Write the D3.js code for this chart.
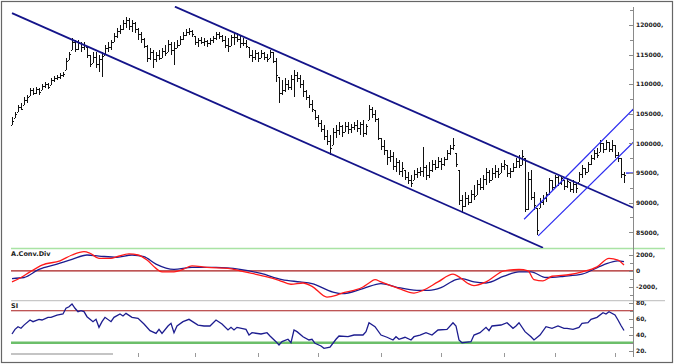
<!DOCTYPE html>
<html>
<head>
<meta charset="utf-8">
<script src="https://cdn.jsdelivr.net/npm/d3@7"></script>
<style>
  body { margin: 0; background: #fff; }
  svg { display: block; font-family: "DejaVu Sans", Verdana, sans-serif; }
  .lbl { font-size: 6px; font-weight: bold; fill: #222; }
</style>
</head>
<body>
<div id="chart"></div>
<script>
// price bars, values in thousands
const hi = [104.5,105.3,106.5,106.8,107.8,108.2,109.4,109.4,109.5,109.3,
  110.0,110.4,110.2,111.0,111.4,111.6,111.9,112.1,114.4,115.4,
  117.8,117.5,117.5,117.1,117.1,116.3,114.9,115.4,115.4,114.9,
  115.4,116.6,117.1,117.5,118.6,119.5,120.0,120.8,121.4,121.2,
  120.8,120.5,119.5,118.8,117.8,116.6,116.1,115.8,115.4,115.8,
  116.1,116.6,117.5,117.1,117.1,117.5,118.1,118.8,119.3,119.5,
  119.2,118.1,117.8,118.0,117.8,117.5,117.8,118.1,118.8,118.8,
  118.3,118.1,117.8,118.3,118.6,118.6,118.3,117.8,117.5,116.3,
  115.8,115.8,115.4,115.8,115.4,115.1,115.8,115.4,114.4,111.2,
  110.7,111.0,110.7,111.6,112.4,112.1,111.6,110.7,109.0,108.2,
  107.3,105.6,104.8,104.0,103.1,102.3,101.4,102.6,103.1,103.6,
  103.1,103.6,103.6,103.3,103.6,104.0,103.6,104.0,103.3,106.5,
  106.1,105.6,104.3,100.9,100.6,98.9,98.9,98.5,97.5,97.2,
  96.9,95.5,95.2,94.7,95.5,95.8,96.0,99.4,96.4,96.9,
  97.2,97.2,97.7,97.5,97.7,98.9,99.7,100.9,98.4,95.5,
  91.3,91.8,91.3,92.1,93.0,93.8,94.2,94.7,95.8,95.5,
  95.8,96.4,95.8,96.7,97.2,96.4,95.8,96.7,97.5,98.0,
  98.9,97.5,95.2,95.5,91.8,89.1,90.8,91.3,91.8,94.2,
  93.8,94.7,94.5,94.5,93.8,94.2,93.5,93.8,93.3,95.2,
  96.4,95.8,96.9,98.0,98.9,99.2,100.6,100.1,100.6,100.2,
  100.6,99.7,98.5,97.5,95.2];
const lo = [103.2,104.3,105.3,105.6,106.5,106.8,108.0,108.2,108.3,108.2,
  109.0,109.4,109.2,109.9,110.4,110.7,110.9,111.2,112.4,114.1,
  115.8,115.4,115.8,115.4,115.8,114.4,112.9,113.6,112.7,112.1,
  111.2,114.9,115.4,115.8,117.1,117.8,118.5,119.2,119.5,119.2,
  118.8,118.6,117.5,117.0,116.1,113.8,114.1,112.7,113.8,114.1,
  114.4,114.8,115.4,114.9,113.2,116.1,116.6,117.5,118.1,118.3,
  118.0,116.6,116.3,116.8,116.5,116.3,116.6,117.0,117.5,117.6,
  117.1,116.1,115.4,116.5,116.6,117.1,116.1,116.5,116.1,114.4,
  113.8,114.1,113.8,114.4,114.1,113.8,114.4,113.6,110.4,106.8,
  108.2,108.7,109.0,109.0,107.8,110.4,109.4,107.8,107.3,106.0,
  105.3,104.0,102.8,101.9,100.6,99.7,98.0,99.7,100.9,101.4,
  101.1,101.9,101.6,101.8,102.3,101.9,101.4,101.1,101.4,104.0,
  104.3,103.6,100.6,98.9,98.0,96.4,96.8,95.5,95.2,94.7,
  94.3,93.8,93.1,92.6,93.8,94.2,94.5,94.3,93.8,94.2,
  95.2,95.5,95.8,95.5,96.2,97.2,98.0,98.9,96.0,89.6,
  88.2,89.3,89.6,89.9,90.4,91.3,92.1,92.1,93.0,93.3,
  93.8,94.2,94.2,95.0,95.5,94.3,94.2,95.2,95.8,95.8,
  96.4,88.4,88.7,90.4,88.7,84.5,89.1,89.6,90.1,91.3,
  92.1,92.5,92.8,93.0,92.1,92.5,91.8,91.6,91.6,93.5,
  94.2,94.7,95.2,96.4,97.2,97.5,98.5,98.4,98.9,98.5,
  98.5,97.5,96.9,94.2,93.3];
const cl = [103.8,105.0,106.2,105.9,107.4,107.9,109.0,108.6,109.2,108.7,
  109.7,110.1,109.5,110.7,111.0,111.2,111.5,111.7,114.0,115.1,
  117.2,116.0,117.0,116.3,116.6,114.9,113.4,114.6,113.4,114.2,
  114.7,116.1,116.3,117.2,118.2,119.0,119.4,120.3,120.8,119.8,
  120.4,119.3,118.4,117.6,116.5,114.5,115.5,114.2,114.9,114.5,
  115.6,115.3,116.8,115.7,116.2,116.6,117.7,118.3,118.9,119.0,
  118.4,117.1,117.4,117.2,117.3,116.9,117.4,117.8,118.5,118.1,
  117.5,116.7,116.4,117.9,118.0,117.6,117.0,116.9,116.4,115.0,
  114.6,115.2,114.4,115.3,114.6,114.2,115.4,114.0,111.5,108.5,
  109.0,110.0,109.5,110.8,111.5,111.0,110.0,108.8,107.9,106.6,
  105.8,104.4,103.4,102.5,101.2,100.4,99.2,101.9,102.2,103.0,
  102.0,103.0,102.4,102.8,103.2,102.6,103.3,101.8,102.9,105.8,
  104.9,104.2,101.0,99.5,98.9,97.7,97.9,96.2,96.8,95.3,
  95.8,94.4,93.8,93.3,94.9,95.2,95.3,96.0,94.6,95.6,
  96.5,96.0,97.1,96.6,97.3,98.4,99.2,99.8,96.5,90.4,
  89.5,90.8,90.1,91.4,91.2,93.1,92.7,94.0,95.2,93.8,
  95.0,95.4,94.8,96.2,96.6,95.0,95.4,96.1,97.0,96.4,
  97.9,89.0,94.0,91.0,89.6,85.4,90.2,90.8,91.5,93.8,
  92.6,94.3,93.4,94.1,92.8,93.6,92.3,93.2,92.4,94.8,
  95.9,95.2,96.5,97.6,98.4,98.1,100.0,99.0,100.2,99.1,
  99.8,98.0,97.5,94.8,94.7];
const lastPrice = 95.0;

// trend channels: [bar index, price]
const downUpper = [[54.3, 123.1], [207.3, 89.1]];
const downLower = [[0, 122.0], [177, 82.4]];
const upUpper = [[170.7, 87.2], [207.3, 105.9]];
const upLower = [[175.4, 84.4], [207.3, 100.3]];

// MACD (red) and signal (navy)
const macdIdx = [0,3,6,10,16,20,24,26,29,33,35,39,42,45,48,50,54,57,60,65,72,76,80,85,89,93,97,100,
  105,108,110,114,117,119,121,123,126,129,134,137,142,147,149,152,154,158,164,169,172,174,177,180,186,190,195,199,202,204];
const macdVal = [-1400,-840,-130,730,1270,2000,2420,2220,1580,1580,1780,2130,2000,1360,310,-130,-130,180,640,430,310,0,-330,-760,-1190,-1690,-1530,-1950,
  -3310,-3100,-2800,-2460,-2040,-1530,-1100,-1400,-1820,-2240,-2800,-2460,-1400,-420,-760,-1600,-1860,-1400,0,180,0,-1100,-1270,-680,-460,-130,510,1580,1360,730];
const sigIdx = [0,4,9,15,20,25,29,35,40,44,48,54,60,68,76,83,90,96,100,107,110,117,123,128,135,139,143,148,150,154,158,164,169,173,178,184,190,197,202,204];
const sigVal = [-970,-840,180,850,1450,2000,1870,1710,2000,1780,850,180,430,430,180,-330,-1100,-1400,-1600,-2680,-2880,-2240,-1600,-2040,-2460,-2460,-2120,-1100,-970,-1400,-1530,-680,-130,-130,-840,-680,-420,730,1270,1150];

// RSI
const rsiIdx = [0,1,2,3,4,6,7,9,10,12,13,15,17,18,19,20,21,22,23,24,25,27,28,29,30,31,33,34,36,37,38,40,42,44,46,48,49,50,52,53,54,55,57,59,62,64,66,68,70,72,73,74,75,78,79,80,83,85,86,88,89,90,92,93,94,95,97,99,100,101,103,104,106,108,109,112,114,117,118,119,121,123,125,127,128,129,131,133,134,136,138,140,142,145,147,148,149,150,153,154,156,158,159,160,163,165,167,168,169,171,173,174,176,178,180,182,184,185,187,189,190,192,193,195,197,198,199,201,202,203,204];
const rsiVal = [40.9,46.7,50,48,52,58.4,56.3,59.2,58.4,61.7,61.7,64.6,65.9,73,75,78.4,73,68.8,70,68.8,62.5,56.3,59.2,49.2,56.3,61.7,56.3,61.7,65.9,63.4,66.7,61.7,60.4,53.4,45,41.7,46.7,41.7,50.9,54.2,42.5,50.9,56.3,59.2,52.1,50.9,50.9,58.4,53.4,45.9,49.2,45.9,49.2,46.7,39.6,42.5,40.9,42.5,38.4,31.3,27.1,31.3,34.3,30,45.9,43.8,37.5,33.4,34.3,29.2,25.9,23,24.3,34.3,38.4,37.5,39.6,39.6,43.8,55,50,39.6,36.8,33.4,37.5,34.3,36.8,33.4,37.5,39.6,42.5,39.6,45.9,46.7,55,50.9,33.4,30,31.3,39.6,42.5,49.2,45,50.9,52.1,55,48,50.9,55,43.8,37.5,33.4,39.6,50,48,50.9,48,48,46.7,49.2,54.2,55,59.2,61.7,67.5,65.9,68.8,64.6,58.4,51.5,45.2];

// monthly x ticks (bar index)
const xTicks = [42, 61, 82, 102, 123, 143, 164, 181, 201];

const W = 674, H = 364;
const L = 11, R = 633;

const svg = d3.select('#chart').append('svg')
  .attr('width', W).attr('height', H);

const sx = d3.scaleLinear().domain([0, 204]).range([12, 624]);
const syP = d3.scaleLinear().domain([85, 120]).range([232.3, 25]);
const syM = d3.scaleLinear().domain([-2000, 2000]).range([286.7, 255]);
const syR = d3.scaleLinear().domain([30, 70]).range([342.7, 310.7]);

const defs = svg.append('defs');
function clip(id, y0, y1, x1) {
  defs.append('clipPath').attr('id', id).append('rect')
    .attr('x', L).attr('y', y0).attr('width', (x1 || R) - L).attr('height', y1 - y0);
  return 'url(#' + id + ')';
}
const clipP = clip('cp', 6, 248);
const clipM = clip('cm', 249, 300);
const clipR = clip('cr', 301, 352.5);

// frame
svg.append('rect').attr('x', 1.5).attr('y', 1.5).attr('width', W - 3).attr('height', H - 3)
  .attr('fill', 'none').attr('stroke', '#666').attr('stroke-width', 1.2);

// panel separators
svg.append('line').attr('x1', L).attr('x2', 665).attr('y1', 248.5).attr('y2', 248.5)
  .attr('stroke', '#a9e3a4').attr('stroke-width', 1.6);
svg.append('line').attr('x1', L).attr('x2', 665).attr('y1', 300.7).attr('y2', 300.7)
  .attr('stroke', '#c8c8c8').attr('stroke-width', 1.2);

// ---- price panel ----
const gP = svg.append('g').attr('clip-path', clipP);
const bx = i => Math.round(sx(i)) + 0.5;

const bars = gP.selectAll('.bar').data(hi.map((h, i) => ({
  i: i, h: h, l: lo[i], c: cl[i],
  o: Math.max(lo[i], Math.min(h, i ? cl[i - 1] : lo[i]))
}))).enter().append('g').attr('class', 'bar')
  .attr('stroke', '#111').attr('stroke-width', 1).attr('shape-rendering', 'crispEdges');
bars.append('line')
  .attr('x1', d => bx(d.i)).attr('x2', d => bx(d.i))
  .attr('y1', d => syP(d.h)).attr('y2', d => syP(d.l));
bars.append('line')
  .attr('x1', d => bx(d.i) - 1.5).attr('x2', d => bx(d.i) - 0.5)
  .attr('y1', d => Math.round(syP(d.o)) + 0.5).attr('y2', d => Math.round(syP(d.o)) + 0.5);
bars.append('line')
  .attr('x1', d => bx(d.i) + 0.5).attr('x2', d => bx(d.i) + 1.5)
  .attr('y1', d => Math.round(syP(d.c)) + 0.5).attr('y2', d => Math.round(syP(d.c)) + 0.5);

const tl = d3.line().x(d => sx(d[0])).y(d => syP(d[1]));
[[downUpper, '#14148a', 1.8], [downLower, '#14148a', 1.8],
 [upUpper, '#2b2bf0', 1.2], [upLower, '#2b2bf0', 1.2]].forEach(t => {
  gP.append('path').attr('d', tl(t[0])).attr('fill', 'none')
    .attr('stroke', t[1]).attr('stroke-width', t[2]);
});

// last price marker
svg.append('line').attr('x1', 626).attr('x2', R)
  .attr('y1', syP(lastPrice)).attr('y2', syP(lastPrice))
  .attr('stroke', '#2b2bf0').attr('stroke-width', 1.4);

// ---- MACD panel ----
const gM = svg.append('g').attr('clip-path', clipM);
gM.append('line').attr('x1', L).attr('x2', R).attr('y1', syM(0)).attr('y2', syM(0))
  .attr('stroke', '#a81c1c').attr('stroke-width', 1.1);
const lineM = d3.line().curve(d3.curveMonotoneX).x(d => sx(d[0])).y(d => syM(d[1]));
gM.append('path').attr('d', lineM(sigIdx.map((d, i) => [d, sigVal[i]])))
  .attr('fill', 'none').attr('stroke', '#1c1c8f').attr('stroke-width', 1.3);
gM.append('path').attr('d', lineM(macdIdx.map((d, i) => [d, macdVal[i]])))
  .attr('fill', 'none').attr('stroke', '#ff1a1a').attr('stroke-width', 1.3);
svg.append('text').attr('class', 'lbl').attr('x', L).attr('y', 256)
  .style('font-size', '6.5px').text('A.Conv.Div');

// ---- RSI panel ----
const gR = svg.append('g').attr('clip-path', clipR);
gR.append('line').attr('x1', L).attr('x2', R).attr('y1', syR(70)).attr('y2', syR(70))
  .attr('stroke', '#a81c1c').attr('stroke-width', 1.1);
gR.append('line').attr('x1', L).attr('x2', R).attr('y1', syR(30)).attr('y2', syR(30))
  .attr('stroke', '#6cbf6a').attr('stroke-width', 2.4);
const lineR = d3.line().x(d => sx(d[0])).y(d => syR(d[1]));
gR.append('path').attr('d', lineR(rsiIdx.map((d, i) => [d, rsiVal[i]])))
  .attr('fill', 'none').attr('stroke', '#1c1c8f').attr('stroke-width', 1.3);
svg.append('text').attr('class', 'lbl').attr('x', L).attr('y', 307.5)
  .style('font-size', '6.5px').text('SI');

// ---- right axis ----
svg.append('line').attr('x1', R + 0.5).attr('x2', R + 0.5).attr('y1', 7).attr('y2', 357)
  .attr('stroke', '#8a8a8a');

function yAxis(scale, ticks, labelled, fmt, y0, y1, id) {
  const g = svg.append('g').attr('clip-path', clip(id, y0, y1, 674));
  g.selectAll('line').data(ticks).enter().append('line')
    .attr('x1', d => R - (labelled.includes(d) ? 4 : 3)).attr('x2', R)
    .attr('y1', d => Math.round(scale(d)) + 0.5).attr('y2', d => Math.round(scale(d)) + 0.5)
    .attr('stroke', '#8a8a8a');
  g.selectAll('text').data(labelled).enter().append('text')
    .attr('class', 'lbl').attr('x', R + 3).attr('y', d => scale(d) + 2.2)
    .text(fmt);
}
yAxis(syP, d3.range(85, 123, 2.5), d3.range(85, 121, 5), d => (d * 1000) + ',', 6, 248, 'ap');
yAxis(syM, d3.range(-3000, 3001, 1000), [-2000, 0, 2000], d => d === 0 ? '0' : d + ',', 249, 300.5, 'am');
yAxis(syR, d3.range(20, 81, 10), [20, 40, 60, 80], d => d + ',', 301, 353, 'ar');

// bottom x ticks and scroll thumb
svg.selectAll('.xt').data(xTicks).enter().append('line').attr('class', 'xt')
  .attr('x1', d => Math.round(sx(d)) + 0.5).attr('x2', d => Math.round(sx(d)) + 0.5)
  .attr('y1', 353).attr('y2', 357).attr('stroke', '#999');
svg.append('rect').attr('x', L).attr('y', 353).attr('width', 102).attr('height', 2)
  .attr('fill', '#c4c4c4');
</script>
</body>
</html>
